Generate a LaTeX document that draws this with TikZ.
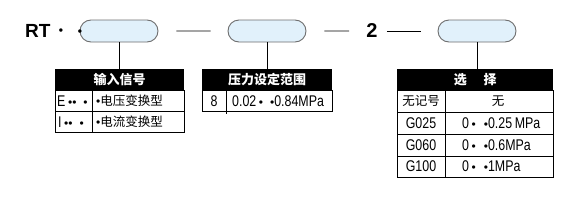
\documentclass[tikz,border=0pt]{standalone}
\usepackage{fontspec}
\setmainfont{Noto Sans CJK SC}
\newfontfamily\codefont{Liberation Sans}
\newfontfamily\latinfont[FakeStretch=0.8]{Liberation Sans}
\newcommand{\bul}{{\codefont\fontsize{12}{12}\selectfont •}}
\usetikzlibrary{positioning,shapes.misc}
\definecolor{pillblue}{HTML}{E1F1FB}
\definecolor{pillgray}{HTML}{6E6E6E}

\begin{document}
\begin{tikzpicture}[x=1pt, y=-1pt,
  pill/.style={rounded rectangle, draw=pillgray, fill=pillblue, line width=0.9pt,
    minimum width=78pt, minimum height=22pt, inner sep=0pt},
  hdr/.style={fill=black, text=white, anchor=north west, inner sep=0pt,
    minimum height=21pt, font=\bfseries\fontsize{13}{13}\selectfont},
  txt/.style={inner sep=0pt, font=\fontsize{12.5}{12.5}\selectfont},
  num/.style={inner sep=0pt, font=\latinfont\fontsize{15.5}{15.5}\selectfont},
  tbl/.style={line width=0.8pt},
  dashln/.style={line width=0.8pt, shorten <=18pt, shorten >=17pt}]
  \useasboundingbox (0,0) rectangle (579,204);
  % model code
  \node[font=\codefont\bfseries\fontsize{19}{19}\selectfont, anchor=west, inner sep=0pt] (rt) at (25,31) {RT};
  \node[font=\codefont\bfseries\fontsize{12}{12}\selectfont, inner sep=0pt] (dotA) at (61,32) {•};
  \node[pill] (p1) at (119,31) {};
  \node[font=\codefont\bfseries\fontsize{12}{12}\selectfont, inner sep=0pt] (dotB) at (80,33) {•};
  \node[pill] (p2) at (267,31) {};
  \node[font=\codefont\bfseries\fontsize{20}{20}\selectfont, inner sep=0pt] (two) at (372,31) {2};
  \node[pill] (p3) at (477,31) {};
  \draw[dashln] (p1) -- (p2);
  \draw[dashln] (p2) -- (two);
  \draw[dashln, shorten <=9pt] (two) -- (p3);
  % headers
  \node[hdr, minimum width=129pt] (h1) at (55,69) {输入信号};
  \node[hdr, minimum width=130pt] (h2) at (202,69) {压力设定范围};
  \node[hdr, minimum width=156pt] (h3) at (397,69) {选\hspace{1.3em}择};
  \draw[tbl] (p1.south) -- (p1.south |- h1.north);
  \draw[tbl] (p2.south) -- (p2.south |- h2.north);
  \draw[tbl] (p3.south) -- (p3.south |- h3.north);
  % input signal
  \draw[tbl] (55,90) rectangle (184,132) (55,111) -- (184,111) (92,90) -- (92,132);
  \node[num, anchor=west] (sigE) at (57,101) {E\,\bul\bul\hspace{7pt}\bul};
  \node[txt, anchor=west] (sigEt) at (96,101) {\bul 电压变换型};
  \node[num, anchor=west] (sigI) at (58,122) {I\,\bul\bul\hspace{7pt}\bul};
  \node[txt, anchor=west] (sigIt) at (96,122) {\bul 电流变换型};
  % pressure range
  \draw[tbl] (202,90) rectangle (332,111) (226,90) -- (226,114);
  \node[num] (rng8) at (214,101) {8};
  \node[num, anchor=west] (rngt) at (232,101) {0.02\,\bul\hspace{7pt}\bul0.84MPa};
  % options
  \draw[tbl] (397,90) rectangle (553,177) (397,112) -- (553,112) (397,134) -- (553,134)
    (397,156) -- (553,156) (445,90) -- (445,177);
  \node[txt] (optN) at (421,101) {无记号};
  \node[txt] (optNt) at (498,101) {无};
  \node[num] (opt1) at (421,123) {G025};
  \node[num, anchor=west] (opt1t) at (462,123) {0\,\bul\hspace{8pt}\bul0.25\,MPa};
  \node[num] (opt2) at (421,145) {G060};
  \node[num, anchor=west] (opt2t) at (462,145) {0\,\bul\hspace{8pt}\bul0.6MPa};
  \node[num] (opt3) at (421,166.5) {G100};
  \node[num, anchor=west] (opt3t) at (462,166.5) {0\,\bul\hspace{8pt}\bul1MPa};
\end{tikzpicture}
\end{document}
